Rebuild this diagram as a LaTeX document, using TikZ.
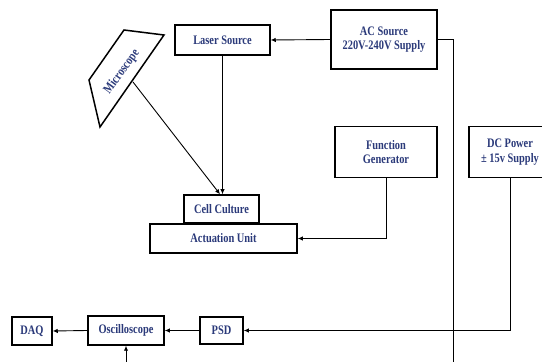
\documentclass[tikz,border=0pt]{standalone}
\usepackage{fontspec}
\setmainfont{Liberation Serif}[FakeStretch=0.8]
\usetikzlibrary{arrows.meta}
\definecolor{labelblue}{HTML}{2B3A7A}
\tikzset{
    lbl/.style={text=labelblue, font=\fontsize{13}{14.5}\selectfont\bfseries},
    blk/.style={lbl, draw, line width=1.5pt, fill=white, align=center, inner sep=0pt},
    wire/.style={line width=0.9pt},
    arr/.style={wire, -{Latex[length=5pt,width=4.5pt]}}
}
\begin{document}
\begin{tikzpicture}[x=1pt,y=1pt]
    \useasboundingbox (0,0) rectangle (542,362);
    
    % Sources
    \node[blk, minimum width=95, minimum height=30] (laser) at (222.5,322) {Laser Source};
    \node[blk, minimum width=106, minimum height=59] (ac) at (384,322.5) {AC Source\\220V-240V Supply};
    \node[blk, minimum width=102, minimum height=51] (func) at (386,210) {Function\\Generator};
    \node[blk, minimum width=82, minimum height=51] (dc) at (510,210) {DC Power\\± 15v Supply};
    
    % Microscope
    \coordinate (m1) at (124,332);
    \coordinate (m2) at (164,327);
    \coordinate (m3) at (100,235);
    \coordinate (m4) at (89,282);
    \draw[line width=1.5pt] (m1) -- (m2) -- (m3) -- (m4) -- cycle;
    \node[lbl, rotate=54] (micro) at (122,290) {Microscope};
    \coordinate (mic) at (133,280);
    
    % Sample stage
    \node[blk, minimum width=75, minimum height=28] (cell) at (221.5,153) {Cell Culture};
    \node[blk, minimum width=147, minimum height=29] (act) at (223.5,123.5) {Actuation Unit};
    
    % Read-out chain
    \node[blk, minimum width=43, minimum height=27] (psd) at (221.5,31.5) {PSD};
    \node[blk, minimum width=76, minimum height=29] (osc) at (126,31.5) {Oscilloscope};
    \node[blk, minimum width=40, minimum height=28] (daq) at (32,31) {DAQ};
    
    % Connections
    \draw[arr] (ac.west) -- (laser.east);
    \coordinate (acdown) at (453,-5);
    \draw[wire] (ac.east) -| (acdown);
    \draw[arr] (laser.south) -- (laser.south |- cell.north);
    \draw[arr] (mic) -- ([xshift=-1.5]cell.north);
    \draw[arr] (func.south) |- (act.east);
    \draw[arr] (dc.south) |- (psd.east);
    \draw[arr] (psd.west) -- (osc.east);
    \draw[arr] (osc.west) -- (daq.east);
    \coordinate (oscin) at (126,-5);
    \draw[arr] (oscin) -- (osc.south);
\end{tikzpicture}
\end{document}
